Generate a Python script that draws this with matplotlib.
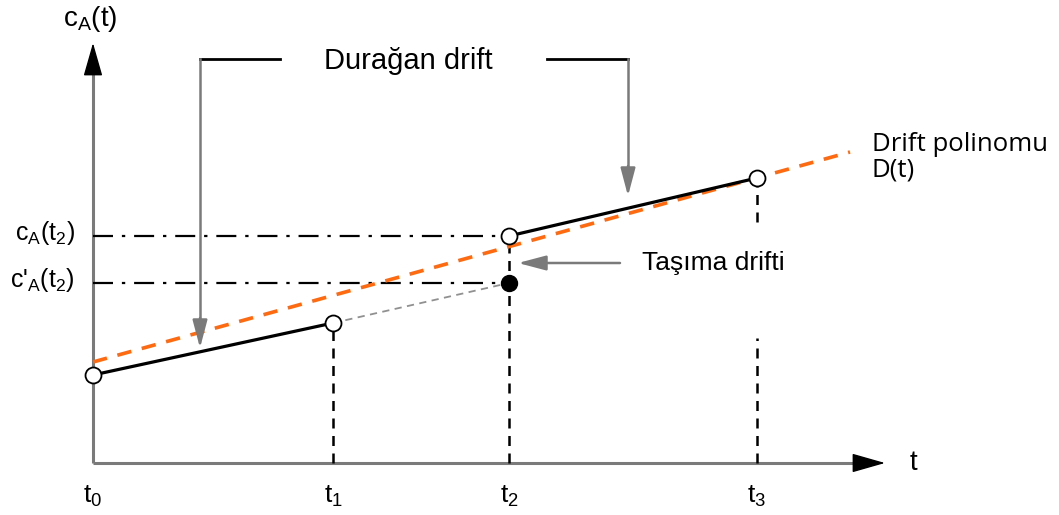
import matplotlib
matplotlib.use("Agg")
import matplotlib.pyplot as plt
import numpy as np

plt.rcParams['font.family'] = ['Liberation Sans', 'DejaVu Sans']
plt.rcParams['mathtext.fontset'] = 'custom'
plt.rcParams['mathtext.rm'] = 'Liberation Sans'
plt.rcParams['mathtext.it'] = 'Liberation Sans'

# data units: pixels measured from the origin (t0, 0)
t_labels = ['t$_0$', 't$_1$', 't$_2$', 't$_3$']
t_pos = [0, 240, 416, 664]
c_meas = [88, 140, 227, 285]          # open circles c_A(t_i)
c_prime_t2 = 180                      # filled circle c'_A(t2)
drift_coef = [0.2774, 101]            # D(t) = a*t + b
drift_span = [0, 757]
level_labels = ["c$_\\mathrm{A}$(t$_2$)", "c'$_\\mathrm{A}$(t$_2$)"]

GRAY = '#7a7a7a'
ORANGE = '#ff6a10'

fig = plt.figure(figsize=(10.59, 5.15), dpi=100)
ax = fig.add_axes([0, 0, 1, 1])
ax.set_xlim(-93, 966)
ax.set_ylim(-52, 463)
ax.axis('off')

# axes with arrow heads
ax.plot([0, 0], [0, 392], color=GRAY, lw=2.2, solid_capstyle='butt')
ax.plot([0, 765], [0, 0], color=GRAY, lw=2.2, solid_capstyle='butt')
ax.annotate('', xy=(0, 420), xytext=(0, 390),
            arrowprops=dict(arrowstyle='-|>,head_length=2.1,head_width=0.6',
                            color='black', lw=1, shrinkA=0, shrinkB=0))
ax.annotate('', xy=(792, 0), xytext=(762, 0),
            arrowprops=dict(arrowstyle='-|>,head_length=2.1,head_width=0.6',
                            color='black', lw=1, shrinkA=0, shrinkB=0))
ax.text(-3, 444, "c$_\\mathrm{A}$(t)", fontsize=20, ha='center', va='center')
ax.text(820, 0, 't', fontsize=20, ha='center', va='center')

# time ticks
for lab, x in zip(t_labels, t_pos):
    ax.text(x, -33, lab, fontsize=19, ha='center', va='center')

# vertical dashed guides
ax.plot([t_pos[1], t_pos[1]], [0, c_meas[1]], color='black', lw=1.8, ls=(0, (4, 3)))
ax.plot([t_pos[2], t_pos[2]], [0, c_meas[2]], color='black', lw=1.8, ls=(0, (4, 3)))
ax.plot([t_pos[3], t_pos[3]], [0, 125], color='black', lw=1.8, ls=(0, (4, 3)))
ax.plot([t_pos[3], t_pos[3]], [241, c_meas[3]], color='black', lw=1.8, ls=(0, (4, 3)))

# dash-dot levels at t2
for lvl, lab in zip([c_meas[2], c_prime_t2], level_labels):
    ax.plot([0, t_pos[2] - 4], [lvl, lvl], color='black', lw=1.6,
            ls=(0, (9, 4, 1.5, 4)))
    ax.text(-18, lvl + 3, lab, fontsize=18, ha='right', va='center')

# drift polynomial
dx = np.array(drift_span)
ax.plot(dx, np.polyval(drift_coef, dx), color=ORANGE, lw=2.6, ls=(0, (4, 3)))
ax.text(779, 306, 'Drift polinomu\nD(t)', fontsize=18.5, ha='left', va='center',
        family=['Open Sans', 'DejaVu Sans'], linespacing=1.05)

# measured segments
ax.plot(t_pos[:2], c_meas[:2], color='black', lw=2.3)
ax.plot(t_pos[2:], c_meas[2:], color='black', lw=2.3)
ax.plot([t_pos[1], t_pos[2]], [c_meas[1], c_prime_t2], color='#909090',
        lw=1.3, ls=(0, (4, 3)))
ax.plot(t_pos, c_meas, 'o', ms=11.5, mfc='white', mec='black', mew=1.3, zorder=5)
ax.plot([t_pos[2]], [c_prime_t2], 'o', ms=11.5, mfc='black', mec='black', zorder=5)

# "Durağan drift" bracket
ax.plot([107, 187], [404, 404], color='black', lw=2)
ax.plot([454, 535], [404, 404], color='black', lw=2)
ax.plot([107, 107], [404, 130], color=GRAY, lw=1.8)
ax.plot([535, 535], [404, 285], color=GRAY, lw=1.8)
for bx, tip in [(107, 115), (535, 267)]:
    ax.annotate('', xy=(bx, tip), xytext=(bx, tip + 30),
                arrowprops=dict(arrowstyle='-|>,head_length=1.7,head_width=0.45',
                                color=GRAY, lw=1.8, shrinkA=0, shrinkB=0))
ax.text(315, 402, 'Durağan drift', fontsize=21, ha='center', va='center')

# "Taşıma drifti" arrow
ax.annotate('', xy=(425, 200), xytext=(527, 200),
            arrowprops=dict(arrowstyle='-|>,head_length=1.7,head_width=0.45',
                            color=GRAY, lw=1.8, shrinkA=0, shrinkB=0))
ax.text(549, 200, 'Taşıma drifti', fontsize=19, ha='left', va='center')

fig.savefig('out.png', dpi=100)
